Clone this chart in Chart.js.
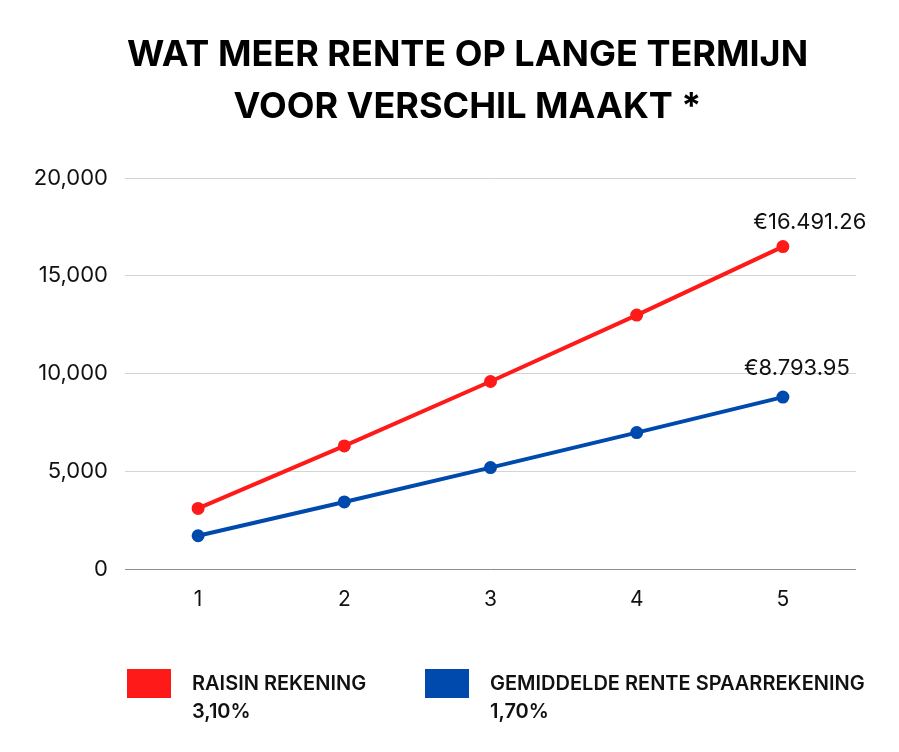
<!DOCTYPE html>
<html>
<head>
<meta charset="utf-8">
<script src="https://cdn.jsdelivr.net/npm/chart.js@4.4.1/dist/chart.umd.min.js"></script>
<style>
  body { margin: 0; background: #fff; font-family: Inter, sans-serif; }
  #wrap { position: relative; width: 899px; height: 752px; overflow: hidden; }
  #chart { position: absolute; left: 0; top: 0; }
  #title {
    position: absolute; left: 36px; top: 27px; width: 863px;
    text-align: center; font-weight: 700; font-size: 36px; line-height: 52px; color: #000;
  }
  .legend-item { position: absolute; top: 669px; display: flex; }
  .legend-item .box { width: 44px; height: 29px; }
  .legend-item .txt { margin-left: 21px; margin-top: 0px; font-weight: 600; font-size: 20px; line-height: 28px; color: #111; }
</style>
</head>
<body>
<div id="wrap">
  <canvas id="chart" width="899" height="752"></canvas>
  <div id="title">WAT MEER RENTE OP LANGE TERMIJN<br>VOOR VERSCHIL MAAKT *</div>
  <div id="legend"></div>
</div>
<script>
const years = ['1', '2', '3', '4', '5'];
const raisin = [3100, 6296, 9591, 12988, 16491.26];
const gemiddeld = [1700, 3429, 5187, 6976, 8793.95];
const endLabels = ['€16.491.26', '€8.793.95'];
const seriesNames = ['RAISIN REKENING', 'GEMIDDELDE RENTE SPAARREKENING'];
const seriesRates = ['3,10%', '1,70%'];
const colors = ['#ff1a1a', '#004aad'];
const yTicks = [0, 5000, 10000, 15000, 20000];

// label above the last point of each line
const endLabelPlugin = {
    id: 'endLabel',
    afterDatasetsDraw(chart) {
        const ctx = chart.ctx;
        chart.data.datasets.forEach((ds, i) => {
            const meta = chart.getDatasetMeta(i);
            const pt = meta.data[meta.data.length - 1];
            ctx.save();
            ctx.font = '22px Inter';
            ctx.fillStyle = '#111';
            ctx.textAlign = 'center';
            ctx.textBaseline = 'alphabetic';
            ctx.fillText(endLabels[i], pt.x + ds.labelDx, pt.y - ds.labelDy);
            ctx.restore();
        });
    }
};

const ctx = document.getElementById('chart');
new Chart(ctx, {
    type: 'line',
    data: {
        labels: years,
        datasets: [{
            label: seriesNames[0],
            data: raisin,
            borderColor: colors[0],
            backgroundColor: colors[0],
            borderWidth: 4,
            pointRadius: 4.5,
            pointHoverRadius: 4.5,
            labelDx: 27,
            labelDy: 18
        }, {
            label: seriesNames[1],
            data: gemiddeld,
            borderColor: colors[1],
            backgroundColor: colors[1],
            borderWidth: 4,
            pointRadius: 4.5,
            pointHoverRadius: 4.5,
            labelDx: 14,
            labelDy: 22
        }]
    },
    options: {
        responsive: false,
        animation: false,
        devicePixelRatio: 1,
        layout: {
            padding: { top: 178, right: 43, bottom: 143, left: 0 }
        },
        scales: {
            x: {
                offset: true,
                grid: { display: false },
                border: { display: false },
                ticks: { color: '#111', font: { family: 'Inter', size: 21 }, padding: 10 },
                afterFit: (scale) => { scale.height = 40; }
            },
            y: {
                min: 0,
                max: 20000,
                afterBuildTicks: (scale) => { scale.ticks = yTicks.map(v => ({ value: v })); },
                grid: {
                    drawTicks: false,
                    lineWidth: 1,
                    color: (c) => c.tick && c.tick.value === 0 ? '#8c8c8c' : '#d4d4d4'
                },
                border: { display: false },
                ticks: {
                    color: '#111',
                    font: { family: 'Inter', size: 22 },
                    padding: 17,
                    callback: (v) => v.toLocaleString('en-US')
                },
                afterFit: (scale) => { scale.width = 125; }
            }
        },
        plugins: {
            legend: { display: false },
            tooltip: { enabled: false }
        }
    },
    plugins: [endLabelPlugin]
});

// legend below the chart, two lines per item
const legendLeft = [127, 425];
document.getElementById('legend').innerHTML = seriesNames.map((name, i) => `
    <div class="legend-item" style="left:${legendLeft[i]}px">
        <div class="box" style="background:${colors[i]}"></div>
        <div class="txt">${name}<br>${seriesRates[i]}</div>
    </div>
`).join('');
</script>
</body>
</html>
